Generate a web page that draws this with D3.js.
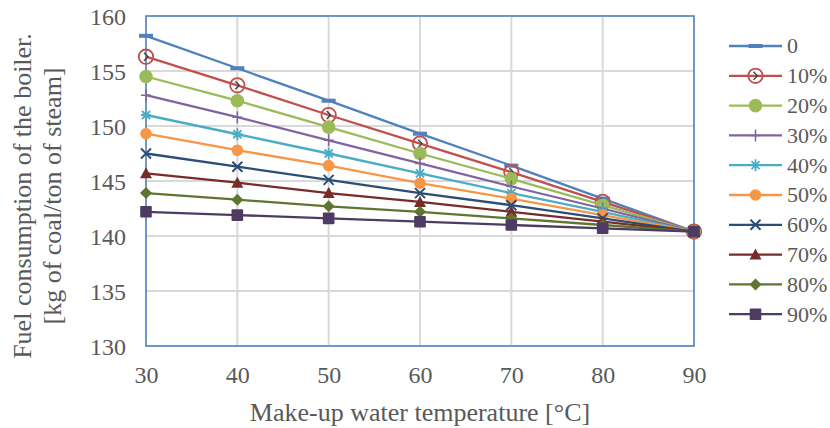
<!DOCTYPE html>
<html>
<head>
<meta charset="utf-8">
<script src="https://cdn.jsdelivr.net/npm/d3@7"></script>
<style>
  body { margin: 0; background: #fff; }
  svg text { font-family: "Liberation Serif", "Times New Roman", Times, "DejaVu Serif", serif; fill: #595959; }
</style>
</head>
<body>
<svg id="chart" width="830" height="428"></svg>
<script>
// data
var temps = [30, 40, 50, 60, 70, 80, 90];
var seriesNames = ['0', '10%', '20%', '30%', '40%', '50%', '60%', '70%', '80%', '90%'];
var s0  = [158.2, 155.25, 152.3, 149.3, 146.4, 143.4, 140.4];
var s10 = [156.3, 153.7, 151.0, 148.4, 145.8, 143.1, 140.4];
var s20 = [154.5, 152.3, 149.9, 147.5, 145.2, 142.8, 140.4];
var s30 = [152.8, 150.8, 148.7, 146.6, 144.5, 142.5, 140.4];
var s40 = [151.0, 149.25, 147.5, 145.7, 143.9, 142.2, 140.4];
var s50 = [149.3, 147.8, 146.4, 144.8, 143.4, 141.9, 140.4];
var s60 = [147.5, 146.3, 145.1, 143.9, 142.8, 141.6, 140.4];
var s70 = [145.7, 144.85, 143.9, 143.1, 142.2, 141.3, 140.4];
var s80 = [143.9, 143.3, 142.7, 142.2, 141.6, 141.0, 140.4];
var s90 = [142.2, 141.9, 141.6, 141.3, 141.0, 140.7, 140.4];
var seriesValues = [s0, s10, s20, s30, s40, s50, s60, s70, s80, s90];
var xTicks = [30, 40, 50, 60, 70, 80, 90];
var yTicks = [130, 135, 140, 145, 150, 155, 160];

var colors = ['#4F81BD', '#C0504D', '#9BBB59', '#8064A2', '#4BACC6',
              '#F79646', '#2C4D75', '#772C2A', '#5F7530', '#4D3B62'];
var markers = ['dash', 'circleOpen', 'bigCircle', 'plus', 'star',
               'circle', 'cross', 'triangle', 'diamond', 'square'];

var FONT = '"Liberation Serif", "Times New Roman", Times, "DejaVu Serif", serif';

var svg = d3.select('#chart');
var margin = { left: 146, top: 16, right: 136, bottom: 82 };
var width = 830 - margin.left - margin.right;
var height = 428 - margin.top - margin.bottom;

var x = d3.scaleLinear().domain([30, 90]).range([0, width]);
var y = d3.scaleLinear().domain([130, 160]).range([height, 0]);

var g = svg.append('g')
    .attr('transform', 'translate(' + margin.left + ',' + margin.top + ')');

// grid
g.append('g')
    .selectAll('line')
    .data(yTicks)
    .enter().append('line')
    .attr('x1', 0).attr('x2', width)
    .attr('y1', function (d) { return y(d); })
    .attr('y2', function (d) { return y(d); })
    .attr('stroke', '#d9d9d9').attr('stroke-width', 2);

g.append('g')
    .selectAll('line')
    .data(xTicks)
    .enter().append('line')
    .attr('y1', 0).attr('y2', height)
    .attr('x1', function (d) { return x(d); })
    .attr('x2', function (d) { return x(d); })
    .attr('stroke', '#d9d9d9').attr('stroke-width', 2);

// plot border
g.append('rect')
    .attr('x', 0).attr('y', 0)
    .attr('width', width).attr('height', height)
    .attr('fill', 'none')
    .attr('stroke', '#4F81BD').attr('stroke-width', 1.5);

// axes (labels only)
var xAxis = g.append('g')
    .attr('transform', 'translate(0,' + height + ')')
    .call(d3.axisBottom(x).tickValues(xTicks).tickSize(0).tickPadding(37));
var yAxis = g.append('g')
    .call(d3.axisLeft(y).tickValues(yTicks).tickSize(0).tickPadding(20));
[xAxis, yAxis].forEach(function (a) {
    a.attr('font-family', null).attr('font-size', null);
    a.select('.domain').remove();
    a.selectAll('text')
        .style('font-family', FONT)
        .style('font-size', '24px')
        .attr('fill', '#595959');
});
xAxis.selectAll('text').attr('dy', '0');
yAxis.selectAll('text').attr('dy', '0.34em');

function drawMarker(sel, type, color) {
    if (type === 'dash') {
        sel.append('rect').attr('x', -7).attr('y', -2).attr('width', 14).attr('height', 4)
            .attr('fill', color);
    } else if (type === 'circleOpen') {
        sel.append('circle').attr('r', 7.2).attr('fill', 'none')
            .attr('stroke', color).attr('stroke-width', 1.8);
        sel.append('path').attr('d', 'M-2,-4L2,0L-2,4')
            .attr('fill', 'none').attr('stroke', '#3b3b3b').attr('stroke-width', 1.3);
    } else if (type === 'bigCircle') {
        sel.append('circle').attr('r', 6.8).attr('fill', color);
    } else if (type === 'circle') {
        sel.append('circle').attr('r', 5.8).attr('fill', color);
    } else if (type === 'plus') {
        sel.append('path').attr('d', 'M-5,0H5M0,-6V6')
            .attr('stroke', color).attr('stroke-width', 1.5);
    } else if (type === 'star') {
        sel.append('path').attr('d', 'M-5,0H5M-4,-4L4,4M-4,4L4,-4M0,-6V6')
            .attr('stroke', color).attr('stroke-width', 1.8);
    } else if (type === 'cross') {
        sel.append('path').attr('d', 'M-5,-5L5,5M-5,5L5,-5')
            .attr('stroke', color).attr('stroke-width', 2);
    } else if (type === 'triangle') {
        sel.append('path').attr('d', 'M0,-6L6,5H-6Z').attr('fill', color);
    } else if (type === 'diamond') {
        sel.append('path').attr('d', 'M0,-6L6,0L0,6L-6,0Z').attr('fill', color);
    } else if (type === 'square') {
        sel.append('rect').attr('x', -5.8).attr('y', -5.8).attr('width', 11.6).attr('height', 11.6)
            .attr('rx', 1).attr('fill', color);
    }
}

var line = d3.line()
    .x(function (d, i) { return x(temps[i]); })
    .y(function (d) { return y(d); });

seriesValues.forEach(function (vals, k) {
    var sg = g.append('g');
    sg.append('path')
        .attr('d', line(vals))
        .attr('fill', 'none')
        .attr('stroke', colors[k])
        .attr('stroke-width', 2.3);
    vals.forEach(function (v, i) {
        var m = sg.append('g')
            .attr('transform', 'translate(' + x(temps[i]) + ',' + y(v) + ')');
        drawMarker(m, markers[k], colors[k]);
    });
});

// legend
var legend = svg.append('g').attr('transform', 'translate(729,46)');
seriesNames.forEach(function (name, k) {
    var row = legend.append('g').attr('transform', 'translate(0,' + (k * 29.8) + ')');
    row.append('line').attr('x1', 0).attr('x2', 53)
        .attr('stroke', colors[k]).attr('stroke-width', 2.3);
    var m = row.append('g').attr('transform', 'translate(26.5,0)');
    drawMarker(m, markers[k], colors[k]);
    row.append('text').attr('x', 58).attr('dy', '0.34em')
        .style('font-family', FONT)
        .style('font-size', '22px').text(name);
});

// axis titles
svg.append('text')
    .attr('x', 420).attr('y', 421)
    .attr('text-anchor', 'middle')
    .style('font-family', FONT)
    .style('font-size', '26px')
    .text('Make-up water temperature [°C]');

var yt = svg.append('text')
    .attr('transform', 'translate(0,196) rotate(-90)')
    .attr('text-anchor', 'middle')
    .style('font-family', FONT)
    .style('font-size', '26px');
yt.append('tspan').attr('x', 0).attr('y', 31).text('Fuel consumption of the boiler.');
yt.append('tspan').attr('x', 0).attr('y', 61).text('[kg of coal/ton of steam]');
</script>
</body>
</html>
